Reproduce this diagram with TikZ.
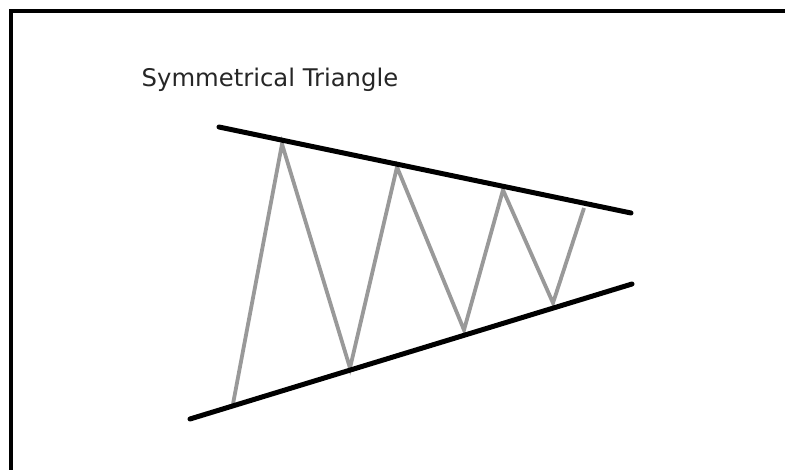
\documentclass[tikz,border=0pt]{standalone}
\usepackage{fontspec}
\setmainfont{DejaVu Sans}
\usetikzlibrary{positioning}

\begin{document}
\begin{tikzpicture}[x=1pt,y=-1pt,
  trend/.style={black,line width=5pt,line cap=round},
  swing/.style={gray!80,line width=3.8pt,line join=miter},
  frame/.style={black,line width=3.2pt}]
  \clip (0,0) rectangle (785,470);
  \useasboundingbox (0,0) rectangle (785,470);
  % outer frame
  \draw[frame] (11,11) rectangle (800,490);
  \node[anchor=base west,inner sep=0pt,font=\fontsize{24.3}{28}\selectfont,text=black!85] (title) at (141.5,87) {Symmetrical Triangle};

  % trend lines
  \coordinate (ua) at (219,127);
  \coordinate (ub) at (631,213);
  \coordinate (la) at (190,419);
  \coordinate (lb) at (632,284);

  % price swings
  \coordinate (p0) at (233,404);
  \coordinate (p1) at (282,144);
  \coordinate (p2) at (350,368);
  \coordinate (p3) at (397,167);
  \coordinate (p4) at (464,330);
  \coordinate (p5) at (503,190);
  \coordinate (p6) at (553,303);
  \coordinate (p7) at (584,208);
  \draw[swing] (p0) \foreach \i in {1,...,7} { -- (p\i) };

  \draw[trend] (ua) -- (ub);
  \draw[trend] (la) -- (lb);
\end{tikzpicture}
\end{document}
